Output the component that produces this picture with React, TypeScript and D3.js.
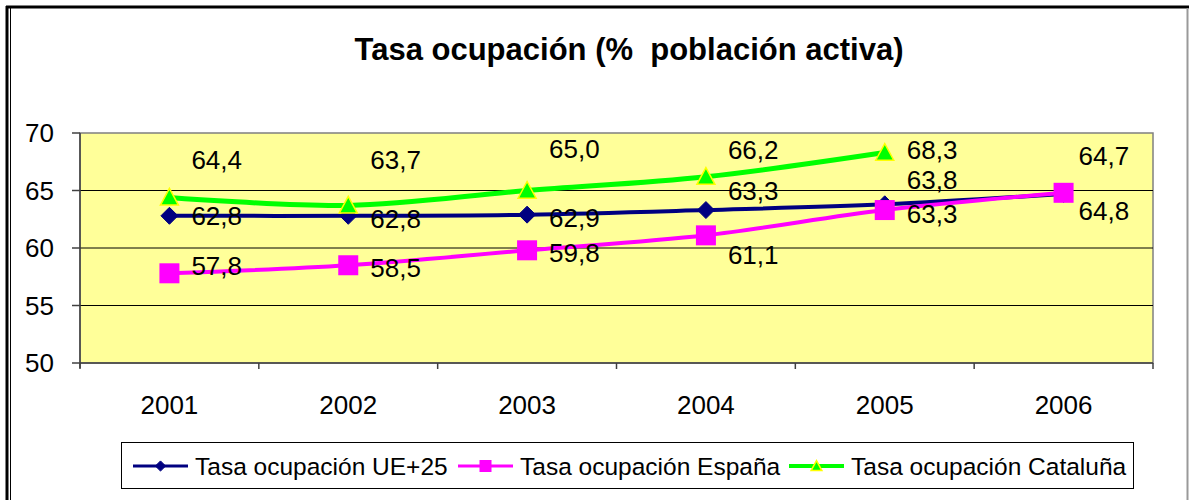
import React from "react";
import * as d3 from "d3";

const years = ["2001", "2002", "2003", "2004", "2005", "2006"];
const ue25 = [62.8, 62.8, 62.9, 63.3, 63.8, 64.7];
const espana = [57.8, 58.5, 59.8, 61.1, 63.3, 64.8];
const cataluna: (number | null)[] = [64.4, 63.7, 65.0, 66.2, 68.3, null];
const yTicks = [50, 55, 60, 65, 70];
const seriesNames = [
  "Tasa ocupación UE+25",
  "Tasa ocupación España",
  "Tasa ocupación Cataluña",
];

// hand-placed data label nudges (px), as in the original sheet
const labelDx = [22, 22, 22, 22, 22, 15];
const ueLabelDy = [0, 3, 3, -19, -24, -38];
const esLabelDy = [-7, 3, 3, 20, 4, 18];
const caLabelDy = [-37, -45, -42, -27, -3, 0];

const W = 1189;
const H = 500;
const plot = { left: 80, right: 1153, top: 133, bottom: 363 };
const font = "'Liberation Sans', Arial, sans-serif";

const fmt = (v: number) => v.toFixed(1).replace(".", ",");

export default function App() {
  const x = d3
    .scaleBand<string>()
    .domain(years)
    .range([plot.left, plot.right]);
  const cx = (yr: string) => (x(yr) as number) + x.bandwidth() / 2;
  const y = d3.scaleLinear().domain([50, 70]).range([plot.bottom, plot.top]);

  const line = d3
    .line<number | null>()
    .defined((d) => d != null)
    .x((_, i) => cx(years[i]))
    .y((d) => y(d as number))
    .curve(d3.curveCatmullRom.alpha(0));

  const diamond = (px: number, py: number, r: number) =>
    `M${px},${py - r}L${px + r},${py}L${px},${py + r}L${px - r},${py}Z`;
  const triangle = (px: number, py: number, r: number) =>
    `M${px},${py - r}L${px + r},${py + r * 0.85}L${px - r},${py + r * 0.85}Z`;

  const series = [
    { name: seriesNames[0], values: ue25 as (number | null)[], color: "#000080", width: 4, dy: ueLabelDy },
    { name: seriesNames[1], values: espana as (number | null)[], color: "#FF00FF", width: 4, dy: esLabelDy },
    { name: seriesNames[2], values: cataluna, color: "#00FF00", width: 5, dy: caLabelDy },
  ];

  const marker = (k: number, px: number, py: number, scale = 1) => {
    if (k === 0)
      return <path d={diamond(px, py, 8.5 * scale)} fill="#000080" stroke="#000080" strokeWidth={1} />;
    if (k === 1) {
      const s = 10 * scale;
      return <rect x={px - s} y={py - s} width={2 * s} height={2 * s} fill="#FF00FF" />;
    }
    return <path d={triangle(px, py, 9 * scale)} fill="#00FF00" stroke="#FFFF00" strokeWidth={1.5} />;
  };

  const legendX = [133, 458, 789];
  const legendY = 466;

  return (
    <svg
      width={W}
      height={H}
      style={{ position: "absolute", left: 0, top: 0, background: "#fff" }}
      fontFamily={font}
    >
      {/* outer frame */}
      <line x1={6} x2={W} y1={7} y2={7} stroke="#000" strokeWidth={3} />
      <line x1={7} x2={7} y1={6} y2={H} stroke="#000" strokeWidth={3} />
      <line x1={10.5} x2={10.5} y1={8} y2={H} stroke="#000" strokeWidth={1} />
      <line x1={1187.5} x2={1187.5} y1={8} y2={H} stroke="#999" strokeWidth={2} />

      <text
        x={629}
        y={49}
        textAnchor="middle"
        dominantBaseline="central"
        fontSize={31}
        fontWeight="bold"
        style={{ whiteSpace: "pre" }}
      >
        {"Tasa ocupación (%  población activa)"}
      </text>

      {/* plot area */}
      <rect
        x={plot.left}
        y={plot.top}
        width={plot.right - plot.left}
        height={plot.bottom - plot.top}
        fill="#FFFF99"
        stroke="#808080"
        strokeWidth={1.5}
      />
      {yTicks.slice(1, -1).map((t) => (
        <line key={t} x1={plot.left} x2={plot.right} y1={y(t)} y2={y(t)} stroke="#000" strokeWidth={1} />
      ))}
      <line x1={plot.left} x2={plot.left} y1={plot.top} y2={plot.bottom + 5} stroke="#404040" strokeWidth={1.5} />
      <line x1={plot.left} x2={plot.right} y1={plot.bottom} y2={plot.bottom} stroke="#404040" strokeWidth={1.5} />
      {yTicks.map((t) => (
        <g key={t}>
          <line x1={plot.left - 8} x2={plot.left} y1={y(t)} y2={y(t)} stroke="#404040" strokeWidth={1.5} />
          <text x={54} y={y(t)} textAnchor="end" dominantBaseline="central" fontSize={26}>
            {t}
          </text>
        </g>
      ))}
      {years.map((yr) => (
        <g key={yr}>
          <line x1={x(yr) as number} x2={x(yr) as number} y1={plot.bottom} y2={plot.bottom + 6} stroke="#404040" strokeWidth={1.5} />
          <text x={cx(yr)} y={405} textAnchor="middle" dominantBaseline="central" fontSize={26}>
            {yr}
          </text>
        </g>
      ))}
      <line x1={plot.right} x2={plot.right} y1={plot.bottom} y2={plot.bottom + 6} stroke="#404040" strokeWidth={1.5} />

      {/* series */}
      {series.map((s, k) => (
        <g key={s.name}>
          <path d={line(s.values) || ""} fill="none" stroke={s.color} strokeWidth={s.width} />
          {s.values.map((v, i) =>
            v == null ? null : <g key={i}>{marker(k, cx(years[i]), y(v))}</g>
          )}
        </g>
      ))}
      {series.map((s) =>
        s.values.map((v, i) =>
          v == null ? null : (
            <text
              key={s.name + i}
              x={cx(years[i]) + labelDx[i]}
              y={y(v) + s.dy[i]}
              dominantBaseline="central"
              fontSize={26}
            >
              {fmt(v)}
            </text>
          )
        )
      )}

      {/* legend */}
      <rect x={121.5} y={442.5} width={1012} height={46} fill="#fff" stroke="#000" strokeWidth={1} />
      {series.map((s, k) => (
        <g key={s.name}>
          <line x1={legendX[k]} x2={legendX[k] + 55} y1={legendY} y2={legendY} stroke={s.color} strokeWidth={s.width - 1} />
          {marker(k, legendX[k] + 27.5, legendY, 0.6)}
          <text x={legendX[k] + 62} y={legendY} dominantBaseline="central" fontSize={24.5}>
            {s.name}
          </text>
        </g>
      ))}
    </svg>
  );
}
